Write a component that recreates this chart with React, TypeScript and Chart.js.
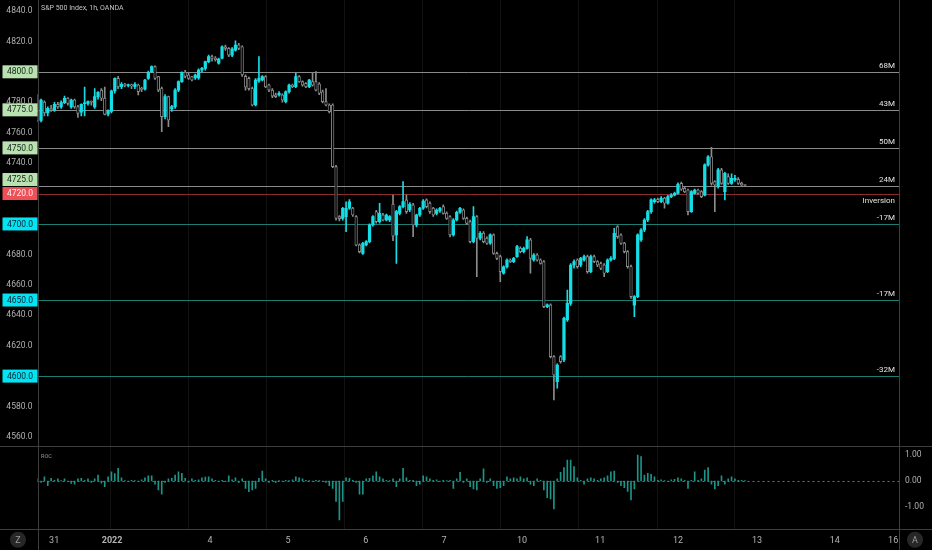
import React, { useEffect, useRef } from 'react';
import { Chart, registerables } from 'chart.js';

Chart.register(...registerables);

// hourly candles, S&P 500 Index (OANDA)
const openPrices = [
  4774, 4768, 4780, 4773, 4776, 4775, 4778.6, 4777, 4779.7, 4782.6,
  4777, 4781.5, 4777, 4773.4, 4779, 4779.3, 4780.4, 4777, 4783.7, 4788,
  4782.6, 4772.1, 4774, 4787.4, 4795.7, 4790.2, 4791.8, 4791, 4791.3, 4790.2,
  4791.3, 4789.1, 4788.6, 4795.7, 4800.1, 4803.4, 4796.8, 4789, 4770.5, 4783.7,
  4775.6, 4777.1, 4788, 4793.5, 4799.7, 4797.9, 4796.8, 4796, 4796, 4801.2,
  4802.3, 4806.7, 4810, 4809, 4805.6, 4809, 4816.5, 4815.4, 4811, 4814.3,
  4817.6, 4816.5, 4797, 4795.7, 4789, 4778.2, 4794, 4794.6, 4796.8, 4791.3,
  4788, 4784.8, 4784.8, 4784.8, 4780.4, 4786.9, 4791.3, 4790.2, 4796.8, 4793.5,
  4792.4, 4790.2, 4793.5, 4793.5, 4792, 4786.9, 4780.4, 4778.2, 4778.2, 4737.7,
  4704.8, 4703.7, 4704.8, 4710.3, 4710.3, 4704.8, 4686.2, 4680.7, 4686.2, 4688.4,
  4699.3, 4708, 4701.5, 4705.9, 4702.6, 4702.6, 4713, 4692.8, 4707, 4711.4,
  4715.8, 4709.2, 4712.5, 4699.3, 4705.9, 4710.3, 4715.8, 4713.6, 4710.3, 4707,
  4708.5, 4711.4, 4707, 4704.8, 4692.8, 4702.6, 4707.7, 4709.2, 4703.7, 4701.5,
  4688.4, 4704.8, 4690.6, 4693.9, 4690.6, 4687.3, 4692.8, 4680.7, 4678.5, 4667.6,
  4671.9, 4676.3, 4675.2, 4678.5, 4684, 4681.8, 4684, 4689.5, 4676.3, 4679.6,
  4676.3, 4675.2, 4645.7, 4646.8, 4612.8, 4596.4, 4612.8, 4610.6, 4636.9, 4647.8,
  4673, 4676.3, 4673, 4676.3, 4678.5, 4668.7, 4678.5, 4675.2, 4674, 4673,
  4668.7, 4676.3, 4677.4, 4698.2, 4692.8, 4687.3, 4681.8, 4672, 4646.7, 4652.2,
  4689.5, 4696, 4702.6, 4708.1, 4714.7, 4716.2, 4714.7, 4716.9, 4713.6, 4718,
  4719, 4720.1, 4726.7, 4723.4, 4722.3, 4708.1, 4720.1, 4722.3, 4721.2, 4719,
  4738.8, 4744.2, 4727.8, 4724.5, 4735.5, 4721.2, 4731.1, 4726.7, 4728.9, 4729.3,
  4726.7, 4725.6,
];

const highPrices = [
  4785, 4782, 4781, 4777, 4778, 4780, 4780, 4781, 4784, 4783,
  4782, 4782, 4778, 4779, 4790, 4781, 4781, 4789, 4787, 4789,
  4790, 4775, 4788, 4796, 4797, 4793, 4792.5, 4792, 4792, 4793,
  4792, 4790, 4795, 4800.5, 4804, 4804, 4797, 4790, 4785, 4784,
  4778, 4789, 4794, 4800, 4801, 4799, 4797, 4798.5, 4802, 4803,
  4807, 4811, 4811, 4810, 4809, 4817, 4817.5, 4816, 4816, 4820.3,
  4818.7, 4817, 4798, 4796.5, 4790, 4795.5, 4810, 4797.5, 4797.5, 4792,
  4789, 4786, 4787, 4785.5, 4787.5, 4792, 4792, 4799, 4797.5, 4794,
  4793, 4795, 4799, 4800.1, 4793, 4788, 4789, 4779, 4779, 4738.5,
  4705.5, 4711, 4714.6, 4716, 4711, 4705.5, 4687, 4688, 4689, 4700,
  4705.5, 4709, 4713.6, 4707, 4706.5, 4705.5, 4719, 4709, 4712, 4727.8,
  4719.1, 4714, 4713.5, 4706.5, 4711, 4716, 4716.5, 4714.5, 4711, 4710,
  4711, 4712.5, 4708, 4705.5, 4703.5, 4708.5, 4711, 4710, 4704.5, 4702.5,
  4711.4, 4705.5, 4695, 4695, 4691.5, 4693.5, 4693.5, 4681.5, 4679.5, 4672.5,
  4677, 4677, 4678, 4686, 4685, 4684.8, 4691.7, 4690.5, 4680.5, 4680.5,
  4677, 4676, 4647.5, 4647.5, 4613.5, 4608, 4613.5, 4638.8, 4656.6, 4674,
  4676.5, 4677, 4678, 4679.5, 4679.5, 4679.5, 4679.5, 4676, 4675, 4674,
  4677, 4678.5, 4697.1, 4699, 4693.5, 4688, 4682.5, 4673, 4653, 4693.5,
  4697, 4703.5, 4709, 4716.5, 4716.8, 4717, 4718, 4717.5, 4718.8, 4720,
  4721, 4727, 4727.5, 4724, 4723, 4722, 4723, 4723, 4722, 4739.5,
  4745, 4750.4, 4728.5, 4736.5, 4736.5, 4734, 4733, 4733, 4732, 4730.5,
  4727.5, 4726,
];

const lowPrices = [
  4767, 4767, 4771, 4771, 4774, 4774, 4776, 4776, 4779, 4778,
  4776, 4776, 4770, 4771, 4771, 4778, 4778, 4776, 4782, 4781,
  4771.6, 4771, 4773, 4786, 4789, 4789, 4790, 4790, 4789, 4789,
  4784.8, 4787, 4788, 4795, 4799.5, 4795, 4787, 4760.7, 4769, 4764,
  4774, 4776, 4787, 4793, 4796, 4795, 4794, 4795, 4795, 4800,
  4801, 4806, 4807, 4807, 4805, 4808.5, 4814, 4810, 4810, 4813.5,
  4814.5, 4797, 4788, 4788, 4777.5, 4777.5, 4793, 4794, 4789.5, 4787,
  4783, 4783, 4784, 4780, 4779.5, 4786, 4789.5, 4789.5, 4793, 4790.5,
  4789.5, 4789.5, 4790.5, 4787.5, 4785, 4779.5, 4777.5, 4773, 4737, 4702.5,
  4702, 4702.5, 4694.9, 4709.5, 4705, 4685.5, 4681, 4680, 4685.5, 4687.5,
  4698.5, 4700.5, 4700.5, 4702, 4702, 4701.5, 4689, 4674.1, 4706, 4710.5,
  4707, 4708, 4691.7, 4698, 4705, 4709.5, 4710.5, 4707, 4705, 4706,
  4707.5, 4706.5, 4703, 4691.5, 4692, 4702, 4707, 4703, 4699.5, 4687.5,
  4687.5, 4665.4, 4689.5, 4687.5, 4686.5, 4686.5, 4680, 4676.5, 4662.1, 4667,
  4671, 4674.5, 4674.5, 4678, 4681, 4681, 4683.5, 4667.6, 4675.5, 4675.5,
  4673.5, 4645, 4645, 4612, 4584.3, 4592, 4608.5, 4609.5, 4636, 4646.5,
  4671, 4671, 4672, 4675.5, 4667.6, 4668, 4674.5, 4672, 4670, 4665.4,
  4668, 4675.5, 4676.5, 4690.5, 4686.5, 4681, 4671, 4651, 4639.1, 4651.5,
  4688.5, 4695, 4701.5, 4707, 4713.6, 4714, 4714, 4710.3, 4713, 4717.3,
  4718.5, 4719.5, 4722, 4720.5, 4706, 4707.5, 4719.5, 4719.5, 4717.3, 4718.5,
  4738, 4725.5, 4708.1, 4723.5, 4726, 4715.8, 4726, 4726, 4728, 4726,
  4725, 4725,
];

const closePrices = [
  4768, 4781.5, 4773, 4776, 4775, 4778.6, 4777, 4779.7, 4782.6, 4779.3,
  4781.5, 4777, 4772.7, 4778.6, 4779.3, 4780.4, 4780, 4783.7, 4786.5, 4782.6,
  4772, 4774, 4787.4, 4795.7, 4790.2, 4791.8, 4791, 4791.3, 4790.8, 4791.8,
  4787, 4788.5, 4794.6, 4799.7, 4803.4, 4795.7, 4788, 4770.5, 4783.7, 4768.3,
  4777.1, 4788, 4793.5, 4799.7, 4797, 4795.7, 4794.6, 4797.9, 4801.2, 4802.3,
  4806.7, 4810, 4808.5, 4808, 4808.4, 4816.5, 4815.4, 4811, 4815, 4817.6,
  4815.4, 4798, 4790, 4789, 4778.2, 4794.6, 4795.7, 4796.8, 4790.2, 4788,
  4784, 4783.7, 4785.9, 4781.5, 4786.9, 4791.3, 4790.2, 4796.8, 4793.5, 4791.3,
  4790.2, 4794.6, 4791.3, 4788, 4785.9, 4780.4, 4778.2, 4773.8, 4737.7, 4703.7,
  4703.5, 4710.3, 4710.3, 4714.6, 4705.9, 4686.2, 4681.8, 4687.3, 4688.4, 4699.3,
  4704.8, 4701.5, 4707, 4702.6, 4705.9, 4704.8, 4692, 4708.1, 4711.4, 4714.7,
  4708.1, 4712.9, 4699.3, 4705.9, 4710.3, 4715.1, 4711.4, 4708.1, 4705.9, 4709.2,
  4710.3, 4707, 4703.7, 4692.8, 4702.6, 4707.7, 4710.3, 4703.7, 4700.4, 4688.4,
  4704.8, 4690.6, 4693.9, 4688.4, 4687.3, 4692.8, 4680.7, 4677.4, 4668.7, 4671.9,
  4676.3, 4675.2, 4677.4, 4685.1, 4681.8, 4684, 4689.5, 4677.4, 4679.6, 4676.3,
  4674.1, 4645.7, 4646.8, 4612.8, 4600.7, 4607.3, 4609.5, 4638, 4647.8, 4673,
  4675.2, 4672, 4677.4, 4678.5, 4668.7, 4678.5, 4675.2, 4673, 4670.8, 4667.6,
  4676.3, 4677.4, 4693.9, 4691.7, 4687.3, 4681.8, 4672, 4652.2, 4652.2, 4692.8,
  4696, 4702.6, 4708.1, 4715.8, 4715.8, 4714.7, 4716.9, 4713.6, 4718, 4719,
  4720.1, 4726.1, 4722.8, 4721.2, 4708.1, 4721.2, 4722.3, 4720.1, 4718, 4738.8,
  4744.2, 4726.7, 4725.6, 4735.5, 4726.7, 4733.3, 4726.7, 4730, 4730, 4726.7,
  4725.6, 4725.4,
];

// ROC sub-panel, one bar per candle
const rocValues = [
  0.08, -0.05, 0.16, -0.18, 0.1, 0.03, 0.08, 0.02, 0.08, -0.02,
  -0.09, -0.12, 0.08, 0.1, 0.03, 0.08, -0.05, 0.08, 0.23, -0.08,
  -0.22, 0.16, 0.35, 0.28, 0.48, 0.12, 0.02, -0.03, 0.03, 0.02,
  -0.02, 0.04, 0.12, 0.2, 0.2, -0.12, -0.34, -0.5, -0.05, 0.08,
  0.1, 0.23, 0.35, 0.29, 0.1, -0.04, 0.08, 0.03, 0.04, 0.12,
  0.15, 0.16, 0.08, 0.03, -0.02, 0.03, -0.03, 0.2, 0.04, 0.12,
  -0.05, 0.08, -0.28, -0.41, -0.34, -0.28, 0.1, 0.38, 0.08, -0.05,
  0.03, -0.05, 0.02, -0.02, 0.03, 0.02, 0.04, 0.16, 0.12, 0.08,
  0.03, 0.02, -0.02, 0.03, 0.02, -0.02, -0.05, -0.18, -0.28, -0.78,
  -1.48, -0.78, 0.12, 0.1, 0.03, -0.05, -0.5, -0.5, 0.08, 0.1,
  0.2, 0.35, 0.16, 0.08, 0.03, 0.02, 0.08, -0.22, 0.08, 0.48,
  0.12, 0.03, 0.03, -0.18, -0.12, 0.2, 0.16, 0.08, 0.03, 0.04,
  -0.02, 0.03, 0.02, 0.03, -0.28, 0.08, 0.33, -0.05, 0.08, -0.22,
  -0.3, -0.34, 0.08, 0.46, -0.05, 0.08, -0.18, -0.28, -0.25, -0.18,
  0.16, 0.08, 0.12, 0.08, 0.16, 0.08, 0.12, -0.12, -0.18, 0.08,
  0.03, -0.34, -0.63, -0.68, -1.06, 0.08, 0.33, 0.51, 0.8, 0.8,
  0.55, 0.12, 0.03, -0.12, 0.08, 0.12, 0.08, 0.03, 0.08, 0.12,
  0.2, 0.35, 0.38, -0.05, -0.18, -0.25, -0.4, -0.72, -0.3, 0.99,
  0.93, 0.23, 0.29, 0.25, 0.16, 0.03, 0.04, 0.02, -0.02, 0.04,
  0.06, 0.12, 0.08, 0.03, -0.28, 0.03, 0.35, 0.03, 0.08, 0.42,
  0.51, -0.12, -0.3, -0.18, 0.2, -0.12, 0.08, 0.16, 0.08, 0.03,
  0.03, 0.02,
];

const priceTicks = [4560, 4580, 4600, 4620, 4640, 4660, 4680, 4700, 4720, 4740, 4760, 4780, 4800, 4820, 4840];
const rocTicks = [-1, 0, 1];

// day labels along the time axis, placed in candle units
const dayLabels = ['31', '2022', '4', '5', '6', '7', '10', '11', '12', '13', '14', '16'];
const dayTickAt = [4.9, 22.2, 51.4, 74.7, 97.9, 121.2, 144.5, 167.8, 191.0, 214.6, 237.8, 255.2];
const gridAt = [21.6, 44.8, 68.1, 91.4, 114.6, 137.9, 161.2, 184.7, 207.7];

// horizontal levels drawn on the chart
const levelPrices = [4800, 4775, 4750, 4725, 4720, 4700, 4650, 4600];
const levelNotes = ['68M', '43M', '50M', '24M', 'Inversion', '-17M', '-17M', '-32M'];
const levelKinds = ['supply', 'supply', 'supply', 'supply', 'inversion', 'demand', 'demand', 'demand'];

const levelStyles: Record<string, { line: string; box: string; text: string }> = {
  supply: { line: '#8a8a8a', box: '#b8e2b0', text: '#16231a' },
  inversion: { line: '#8c2a2e', box: '#ee5058', text: '#fff1f1' },
  demand: { line: '#1d7d73', box: '#00e4f4', text: '#0c2030' },
};

const UP = '#14dde6';
const DOWN = '#8c8c8c';
const FONT = 'Roboto, "Noto Sans", sans-serif';
const MAIN_PANEL_LOW = 4554.1; // price at the divider between the two panels
const BORDER = '#3e3e3e';

const overlayPlugin = {
  id: 'overlay',
  beforeDatasetsDraw(chart: any) {
    const { ctx, chartArea, scales } = chart;
    const xs = scales.x;
    const ys = scales.y;
    const rs = scales.roc;
    ctx.save();
    ctx.lineWidth = 1;

    ctx.strokeStyle = 'rgba(255,255,255,0.07)';
    gridAt.forEach((v) => {
      const px = Math.round(xs.getPixelForValue(v)) + 0.5;
      ctx.beginPath();
      ctx.moveTo(px, chartArea.top);
      ctx.lineTo(px, chartArea.bottom);
      ctx.stroke();
    });

    const zy = Math.round(rs.getPixelForValue(0)) + 0.5;
    ctx.strokeStyle = '#6e6e6e';
    ctx.setLineDash([2, 3]);
    ctx.beginPath();
    ctx.moveTo(chartArea.left, zy);
    ctx.lineTo(chartArea.right, zy);
    ctx.stroke();
    ctx.setLineDash([]);

    levelPrices.forEach((p, i) => {
      const py = Math.round(ys.getPixelForValue(p)) + 0.5;
      ctx.strokeStyle = levelStyles[levelKinds[i]].line;
      ctx.beginPath();
      ctx.moveTo(chartArea.left, py);
      ctx.lineTo(chartArea.right, py);
      ctx.stroke();
    });
    ctx.restore();
  },
  afterDraw(chart: any) {
    const { ctx, chartArea, scales, width, height } = chart;
    const ys = scales.y;
    ctx.save();
    ctx.lineWidth = 1;
    ctx.strokeStyle = BORDER;

    const divY = Math.round(ys.getPixelForValue(MAIN_PANEL_LOW)) + 0.5;
    const botY = Math.round(chartArea.bottom) + 0.5;
    const lx = Math.round(chartArea.left) + 0.5;
    const rx = Math.round(chartArea.right) + 0.5;
    ctx.beginPath();
    ctx.moveTo(0, divY); ctx.lineTo(width, divY);
    ctx.moveTo(0, botY); ctx.lineTo(width, botY);
    ctx.moveTo(lx, 0); ctx.lineTo(lx, height);
    ctx.moveTo(rx, 0); ctx.lineTo(rx, height);
    ctx.stroke();

    // price boxes on the left axis, nudged up when they would overlap
    const boxH = 13;
    const centers = levelPrices.map((p) => ys.getPixelForValue(p));
    const placed: number[] = new Array(centers.length);
    let limit = Infinity;
    for (let i = centers.length - 1; i >= 0; i--) {
      let c = centers[i];
      if (c + boxH / 2 > limit - 1) c = limit - 1 - boxH / 2;
      placed[i] = c;
      limit = c - boxH / 2;
    }
    ctx.font = `8.5px ${FONT}`;
    ctx.textAlign = 'center';
    ctx.textBaseline = 'middle';
    levelPrices.forEach((p, i) => {
      const st = levelStyles[levelKinds[i]];
      const c = placed[i];
      ctx.fillStyle = st.box;
      ctx.fillRect(2.5, c - boxH / 2, chartArea.left - 2.5, boxH);
      ctx.fillStyle = st.text;
      ctx.fillText(p.toFixed(1), (2.5 + chartArea.left) / 2, c + 0.5);
    });

    // notes at the right end of every level
    ctx.font = `8px ${FONT}`;
    ctx.textAlign = 'right';
    ctx.textBaseline = 'alphabetic';
    ctx.fillStyle = '#e4e4e4';
    levelPrices.forEach((p, i) => {
      const py = ys.getPixelForValue(p);
      const below = levelKinds[i] === 'inversion';
      ctx.fillText(levelNotes[i], chartArea.right - 4, below ? py + 9.5 : py - 4);
    });

    ctx.textAlign = 'left';
    ctx.fillStyle = '#c4c4c4';
    ctx.font = `7px ${FONT}`;
    ctx.fillText('S&P 500 Index, 1h, OANDA', chartArea.left + 3.5, 10);
    ctx.fillStyle = '#9a9a9a';
    ctx.font = `5.5px ${FONT}`;
    ctx.fillText('ROC', chartArea.left + 3.5, divY + 11);

    // corner buttons
    const btnY = (botY + height) / 2;
    [[18, 'Z'], [915, 'A']].forEach(([bx, t]) => {
      ctx.fillStyle = '#272727';
      ctx.beginPath();
      ctx.arc(bx as number, btnY, 8, 0, Math.PI * 2);
      ctx.fill();
      ctx.fillStyle = '#9c9c9c';
      ctx.font = `9px ${FONT}`;
      ctx.textAlign = 'center';
      ctx.textBaseline = 'middle';
      ctx.fillText(t as string, bx as number, btnY + 0.5);
    });
    ctx.restore();
  },
};

function App() {
  const canvasRef = useRef<HTMLCanvasElement | null>(null);
  const chartRef = useRef<Chart | null>(null);

  useEffect(() => {
    if (!canvasRef.current) return;
    if (chartRef.current) chartRef.current.destroy();

    const isUp = closePrices.map((c, i) => c >= openPrices[i]);
    const candleColor = isUp.map((u) => (u ? UP : DOWN));

    const wicks = lowPrices.map((l, i) => ({ x: i, y: [l, highPrices[i]] }));
    const bodies = openPrices.map((o, i) => ({ x: i, y: [o, closePrices[i]] }));
    const roc = rocValues.map((v, i) => ({ x: i, y: v }));

    chartRef.current = new Chart(canvasRef.current, {
      type: 'bar',
      data: {
        datasets: [
          {
            label: 'body',
            data: bodies as any,
            yAxisID: 'y',
            order: 0,
            grouped: false,
            barThickness: 2.6,
            minBarLength: 1,
            backgroundColor: isUp.map((u) => (u ? UP : '#000000')),
            borderColor: candleColor,
            borderWidth: isUp.map((u) => (u ? 0 : 0.9)),
            borderSkipped: false,
          },
          {
            label: 'wick',
            data: wicks as any,
            yAxisID: 'y',
            order: 1,
            grouped: false,
            barThickness: 1,
            backgroundColor: candleColor,
            borderWidth: 0,
          },
          {
            label: 'ROC',
            data: roc as any,
            yAxisID: 'roc',
            order: 2,
            grouped: false,
            barThickness: 1,
            backgroundColor: '#1c9488',
            borderWidth: 0,
          },
        ],
      },
      options: {
        animation: false,
        responsive: true,
        maintainAspectRatio: false,
        layout: { padding: 0 },
        plugins: {
          legend: { display: false },
          tooltip: { enabled: false },
        },
        scales: {
          x: {
            type: 'linear',
            position: 'bottom',
            min: -0.06,
            max: 256.95,
            offset: false,
            grid: { display: false, drawTicks: false },
            border: { display: false },
            afterBuildTicks: (s: any) => {
              s.ticks = dayTickAt.map((v) => ({ value: v }));
            },
            afterFit: (s: any) => {
              s.height = 21;
              s.paddingLeft = 0;
              s.paddingRight = 0;
            },
            ticks: {
              autoSkip: false,
              maxRotation: 0,
              padding: 6,
              color: '#b4b4b4',
              font: (c: any) => ({
                family: FONT,
                size: 9,
                weight: c.tick && c.index === 1 ? 'bold' : 'normal',
              }),
              callback: (_v: any, i: number) => dayLabels[i] ?? '',
            },
          },
          y: {
            type: 'linear',
            position: 'left',
            min: 4499.5,
            max: 4847.2,
            grid: { display: false, drawTicks: false },
            border: { display: false },
            afterBuildTicks: (s: any) => {
              s.ticks = priceTicks.map((v) => ({ value: v }));
            },
            afterFit: (s: any) => {
              s.width = 37.5;
              s.paddingTop = 0;
              s.paddingBottom = 0;
            },
            ticks: {
              padding: 5,
              color: '#b0b0b0',
              font: { family: FONT, size: 8.5 },
              callback: (v: any) => Number(v).toFixed(1),
            },
          },
          roc: {
            type: 'linear',
            position: 'right',
            min: -1.825,
            max: 18.29,
            grid: { display: false, drawTicks: false },
            border: { display: false },
            afterBuildTicks: (s: any) => {
              s.ticks = rocTicks.map((v) => ({ value: v }));
            },
            afterFit: (s: any) => {
              s.width = 33;
              s.paddingTop = 0;
              s.paddingBottom = 0;
            },
            ticks: {
              padding: 6,
              color: '#b0b0b0',
              font: { family: FONT, size: 8.5 },
              callback: (v: any) => Number(v).toFixed(2),
            },
          },
        },
      },
      plugins: [overlayPlugin],
    });

    return () => {
      if (chartRef.current) {
        chartRef.current.destroy();
        chartRef.current = null;
      }
    };
  }, []);

  return (
    <div style={{ position: 'fixed', left: 0, top: 0, width: 932, height: 550, background: '#000000' }}>
      <canvas ref={canvasRef} />
    </div>
  );
}

export default App;
